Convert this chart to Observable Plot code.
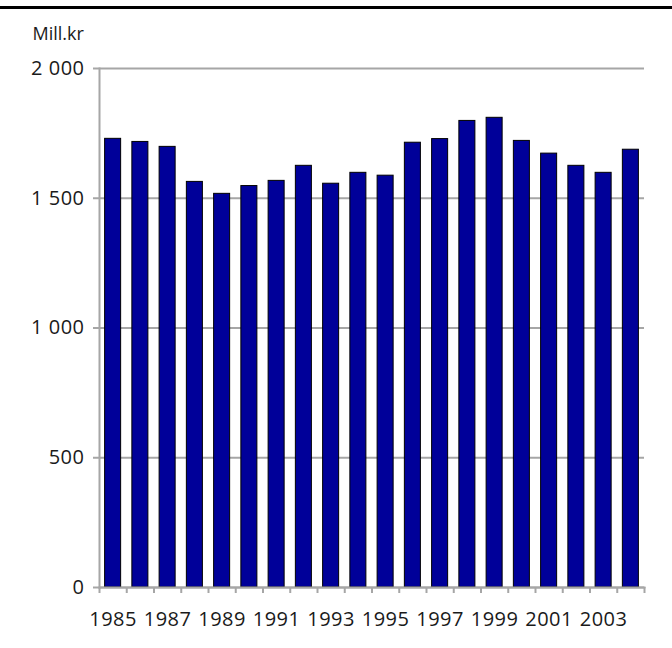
<!DOCTYPE html>
<html>
<head>
<meta charset="utf-8">
<script src="https://cdn.jsdelivr.net/npm/d3@7"></script>
<script src="https://cdn.jsdelivr.net/npm/@observablehq/plot@0.6"></script>
<style>
  html, body { margin: 0; padding: 0; background: #fff; }
  #wrap { position: relative; width: 672px; height: 648px; overflow: hidden; }
  #topline { position: absolute; left: 0; top: 6px; width: 672px; height: 3px; background: #000; }
  svg { font-family: "Open Sans", sans-serif; }
</style>
</head>
<body>
<div id="wrap"><div id="topline"></div><div id="chart"></div></div>
<script>
const years = [1985,1986,1987,1988,1989,1990,1991,1992,1993,1994,1995,1996,1997,1998,1999,2000,2001,2002,2003,2004];
const values = [1729,1717,1698,1563,1517,1547,1567,1625,1556,1598,1587,1714,1728,1798,1810,1721,1672,1625,1598,1687];
const yTicks = [0, 500, 1000, 1500, 2000];
const yTickLabels = ["0", "500", "1\u00a0000", "1\u00a0500", "2\u00a0000"];
const xTickLabels = [1985,1987,1989,1991,1993,1995,1997,1999,2001,2003];
const unitLabel = "Mill.kr";

const data = years.map((year, i) => ({year, value: values[i]}));
const half = 0.294;
const edges = years.map(y => y - 0.5).concat([years[years.length - 1] + 0.5]);
const gray = "#a6a6a6";
const fs = 20;

const chart = Plot.plot({
  width: 672,
  height: 648,
  marginLeft: 99,
  marginRight: 28,
  marginTop: 68,
  marginBottom: 61,
  style: {fontFamily: '"Open Sans", sans-serif', fontSize: fs + "px", color: "#000", background: "transparent", letterSpacing: "0.5px"},
  x: {domain: [years[0] - 0.5, years[years.length - 1] + 0.5]},
  y: {domain: [0, 2000]},
  marks: [
    Plot.gridY(yTicks, {stroke: gray, strokeOpacity: 1, strokeWidth: 2}),
    Plot.rectY(data, {x1: d => d.year - half, x2: d => d.year + half, y: "value", fill: "#000099", stroke: "#000", strokeWidth: 1}),
    Plot.frame({anchor: "left", stroke: gray, strokeWidth: 2}),
    Plot.frame({anchor: "bottom", stroke: gray, strokeWidth: 2}),
    Plot.axisY({ticks: yTicks, tickFormat: d => yTickLabels[yTicks.indexOf(d)], tickSize: 6, tickPadding: 9, stroke: gray, strokeWidth: 2, fill: "#1a1a1a", label: null, fontSize: fs}),
    Plot.axisX({ticks: edges, tickFormat: () => "", tickSize: 6, stroke: gray, strokeWidth: 2, label: null}),
    Plot.axisX({ticks: xTickLabels, tickFormat: d => String(d), tickSize: 0, tickPadding: 24, fill: "#1a1a1a", label: null, fontSize: fs}),
    Plot.text([unitLabel], {frameAnchor: "top-left", text: d => d, dx: -67, dy: -34, textAnchor: "start", lineAnchor: "middle", fill: "#1a1a1a", fontSize: 18})
  ]
});
d3.select(chart).selectAll('g[aria-label="text"] text').style("letter-spacing", "0px");
document.getElementById("chart").appendChild(chart);
</script>
</body>
</html>
